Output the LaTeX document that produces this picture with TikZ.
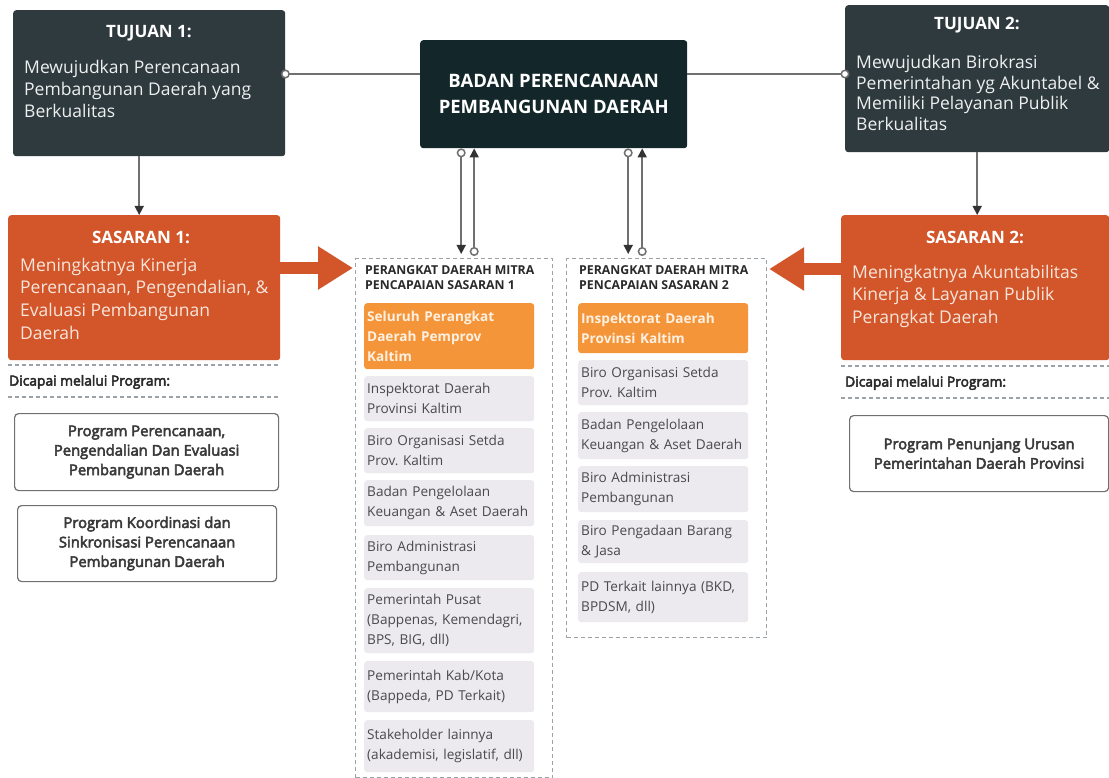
\documentclass[tikz,border=0pt]{standalone}
\usepackage{fontspec}
\setmainfont{Open Sans}
\newfontfamily\semib[FakeBold=3.5]{Open Sans}
\usetikzlibrary{arrows.meta}
\definecolor{cDark}{HTML}{2F3A3F}
\definecolor{cBadan}{HTML}{13272A}
\definecolor{cSas}{HTML}{D3562A}
\definecolor{cOrange}{HTML}{F5953A}
\definecolor{cItem}{HTML}{ECE9EF}
\definecolor{cItemText}{HTML}{4A4A4A}
\definecolor{cLine}{HTML}{707070}
\definecolor{cTip}{HTML}{333333}
\definecolor{cDash}{HTML}{9BA3A8}
\definecolor{cProg}{HTML}{707070}
\definecolor{cProgText}{HTML}{3A3A3A}
\definecolor{cBodyLight}{HTML}{EEF0F0}
\definecolor{cSasText}{HTML}{F8E6DC}
\definecolor{cOrText}{HTML}{FFF1E2}
\definecolor{cHdr}{HTML}{2A2A2A}
\frenchspacing
\begin{document}
\begin{tikzpicture}[x=1pt,y=-1pt,
  box/.style={rectangle, rounded corners=3pt, inner sep=0pt, anchor=north west},
  darkbox/.style={box, fill=cDark},
  sasbox/.style={box, fill=cSas},
  boxtitle/.style={inner sep=0pt, text=white, font=\bfseries\fontsize{17}{20}\selectfont},
  boxbody/.style={inner sep=0pt, anchor=north west, align=left, text=cBodyLight, font=\fontsize{17.5}{22}\selectfont},
  conn/.style={draw=cLine, line width=1.5pt},
  endarrow/.style={-{Triangle[width=9pt,length=9pt,color=cTip]}},
  fatarrow/.style={draw=cSas, line width=12pt, -{Triangle[length=35pt,width=41pt]}},
  dashbox/.style={box, rounded corners=0pt, draw=cDash, dash pattern=on 4pt off 3pt, line width=1.1pt},
  dline/.style={draw=cDash, dash pattern=on 4pt off 3pt, line width=1.1pt},
  gitem/.style={box, fill=cItem, rounded corners=3pt, minimum width=170pt, text width=164pt, inner xsep=3pt, align=left, text=cItemText, font=\fontsize{13.6}{20}\selectfont},
  oitem/.style={gitem, fill=cOrange, text=cOrText, font=\bfseries\fontsize{13.6}{20}\selectfont},
  hdr/.style={inner sep=0pt, anchor=north west, align=left, text=cHdr, font=\bfseries\fontsize{12.3}{15}\selectfont},
  prog/.style={box, rounded corners=4pt, draw=cProg, line width=1.2pt, fill=white, align=center, text=cProgText, font=\semib\fontsize{14.8}{19.5}\selectfont},
  dicapai/.style={inner sep=0pt, anchor=west, text=cHdr, font=\semib\fontsize{13.8}{16}\selectfont}
]
\useasboundingbox[fill=white] (0,0) rectangle (1109,778);

% ---------- top boxes ----------
\node[darkbox, minimum width=272pt, minimum height=146pt] (t1) at (13,10) {};
\node[boxtitle] (t1t) at (149,33) {TUJUAN 1:};
\node[boxbody] (t1b) at (24,59.7) {Mewujudkan Perencanaan\\Pembangunan Daerah yang\\Berkualitas};

\node[box, fill=cBadan, minimum width=267pt, minimum height=108pt, text=white,
      font=\bfseries\fontsize{18.5}{26}\selectfont, align=center] (bd) at (420,40)
      {BADAN PERENCANAAN\\PEMBANGUNAN DAERAH};

\node[darkbox, minimum width=264pt, minimum height=147pt] (t2) at (845,5) {};
\node[boxtitle] (t2t) at (977,25) {TUJUAN 2:};
\node[boxbody, font=\fontsize{17.5}{20.5}\selectfont] (t2b) at (856,55.5)
      {Mewujudkan Birokrasi\\Pemerintahan yg Akuntabel \&\\Memiliki Pelayanan Publik\\Berkualitas};

% ---------- sasaran ----------
\node[sasbox, minimum width=272pt, minimum height=145pt] (s1) at (8,215) {};
\node[boxtitle] (s1t) at (141,237) {SASARAN 1:};
\node[boxbody, text=cSasText, font=\fontsize{17.5}{22.7}\selectfont] (s1b) at (20,257.7)
      {Meningkatnya Kinerja\\Perencanaan, Pengendalian, \&\\Evaluasi Pembangunan\\Daerah};

\node[sasbox, minimum width=268pt, minimum height=145pt] (s2) at (841,215) {};
\node[boxtitle] (s2t) at (975,237) {SASARAN 2:};
\node[boxbody, text=cSasText, font=\fontsize{17.5}{22.5}\selectfont] (s2b) at (852,264.7)
      {Meningkatnya Akuntabilitas\\Kinerja \& Layanan Publik\\Perangkat Daerah};

% ---------- columns ----------
\node[dashbox, minimum width=197pt, minimum height=519pt] (c1) at (355,258) {};
\node[dashbox, minimum width=200pt, minimum height=379pt] (c2) at (566,258) {};
\node[hdr] (h1) at (365,265.6) {PERANGKAT DAERAH MITRA\\PENCAPAIAN SASARAN 1};
\node[hdr] (h2) at (579,265.6) {PERANGKAT DAERAH MITRA\\PENCAPAIAN SASARAN 2};

\node[oitem, minimum height=66pt] (a1) at (364,303) {Seluruh Perangkat\\Daerah Pemprov\\Kaltim};
\node[gitem, minimum height=45pt] (a2) at (364,376) {Inspektorat Daerah\\Provinsi Kaltim};
\node[gitem, minimum height=45pt] (a3) at (364,428) {Biro Organisasi Setda\\Prov. Kaltim};
\node[gitem, minimum height=46pt] (a4) at (364,480) {Badan Pengelolaan\\Keuangan \& Aset Daerah};
\node[gitem, minimum height=45pt] (a5) at (364,535) {Biro Administrasi\\Pembangunan};
\node[gitem, minimum height=65pt] (a6) at (364,588) {Pemerintah Pusat\\(Bappenas, Kemendagri,\\BPS, BIG, dll)};
\node[gitem, minimum height=51pt] (a7) at (364,661) {Pemerintah Kab/Kota\\(Bappeda, PD Terkait)};
\node[gitem, minimum height=52pt] (a8) at (364,720) {Stakeholder lainnya\\(akademisi, legislatif, dll)};

\node[oitem, minimum height=50pt] (b1) at (578,303) {Inspektorat Daerah\\Provinsi Kaltim};
\node[gitem, minimum height=45pt] (b2) at (578,360) {Biro Organisasi Setda\\Prov. Kaltim};
\node[gitem, minimum height=47pt] (b3) at (578,412) {Badan Pengelolaan\\Keuangan \& Aset Daerah};
\node[gitem, minimum height=46pt] (b4) at (578,466) {Biro Administrasi\\Pembangunan};
\node[gitem, minimum height=43pt] (b5) at (578,520) {Biro Pengadaan Barang\\\& Jasa};
\node[gitem, minimum height=50pt] (b6) at (578,572) {PD Terkait lainnya (BKD,\\BPDSM, dll)};

% ---------- programs ----------
\draw[dline] (8,365) -- (280,365);
\draw[dline] (8,397) -- (280,397);
\node[dicapai] (d1) at (9,382) {Dicapai melalui Program:};
\draw[dline] (841,366) -- (1109,366);
\draw[dline] (841,398) -- (1109,398);
\node[dicapai] (d2) at (845,383) {Dicapai melalui Program:};

\node[prog, minimum width=264pt, minimum height=77pt] (p1) at (14,413)
      {Program Perencanaan,\\Pengendalian Dan Evaluasi\\Pembangunan Daerah};
\node[prog, minimum width=259pt, minimum height=76pt] (p2) at (17,505)
      {Program Koordinasi dan\\Sinkronisasi Perencanaan\\Pembangunan Daerah};
\node[prog, minimum width=259pt, minimum height=76pt] (p3) at (849,415)
      {Program Penunjang Urusan\\Pemerintahan Daerah Provinsi};

% ---------- connectors ----------
\coordinate (h1c) at ([yshift=-64pt]t1.north east);
\draw[conn, {Circle[length=9pt,fill=white]}-, shorten <=-4.5pt] (h1c) -- (h1c -| bd.west);
\coordinate (h2c) at ([yshift=-69pt]t2.north west);
\draw[conn, -{Circle[length=9pt,fill=white]}, shorten >=-4.5pt] (h2c -| bd.east) -- (h2c);

\coordinate (v1) at ([xshift=-10pt]t1.south);
\draw[conn, endarrow] (v1) -- (v1 |- s1.north);
\draw[conn, endarrow] (t2.south) -- (t2.south |- s2.north);

\coordinate (va) at ([xshift=-92.5pt]bd.south);
\coordinate (vb) at ([xshift=-79.5pt]bd.south);
\coordinate (vc) at ([xshift=74.5pt]bd.south);
\coordinate (vd) at ([xshift=88.5pt]bd.south);
\draw[conn, {Circle[length=9pt,fill=white]}-{Triangle[width=9pt,length=9pt,color=cTip]}, shorten >=4pt] (va) -- (va |- c1.north);
\draw[conn, {Circle[length=9pt,fill=white]}-{Triangle[width=9pt,length=9pt,color=cTip]}, shorten <=2pt] (vb |- c1.north) -- (vb);
\draw[conn, {Circle[length=9pt,fill=white]}-{Triangle[width=9pt,length=9pt,color=cTip]}, shorten >=4pt] (vc) -- (vc |- c2.north);
\draw[conn, {Circle[length=9pt,fill=white]}-{Triangle[width=9pt,length=9pt,color=cTip]}, shorten <=2pt] (vd |- c2.north) -- (vd);

\coordinate (f1) at ([yshift=-53pt]s1.north east);
\draw[fatarrow, shorten >=2pt] (f1) -- (f1 -| c1.west);
\coordinate (f2) at ([yshift=-54pt]s2.north west);
\draw[fatarrow, shorten >=2pt] (f2) -- (f2 -| c2.east);
\end{tikzpicture}
\end{document}
